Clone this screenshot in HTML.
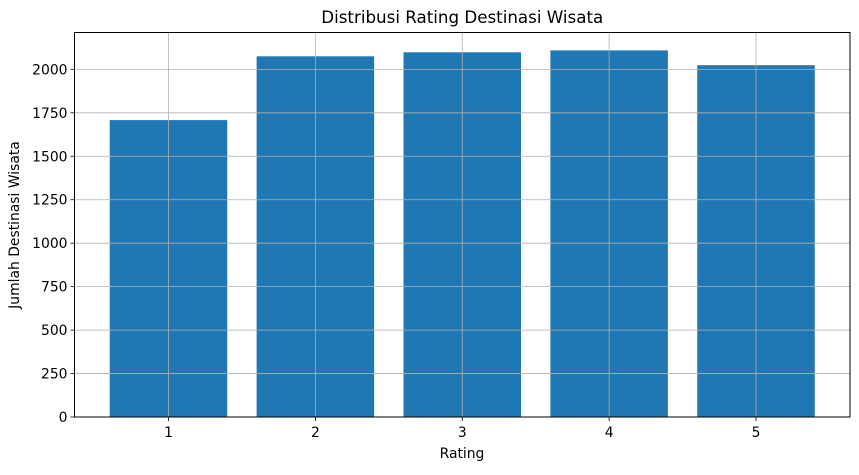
<!DOCTYPE html>
<html><head><meta charset="utf-8"><style>
body{margin:0;background:#fff;}
svg text{font-family:"DejaVu Sans","Liberation Sans",sans-serif;fill:#000;}
</style></head><body>
<svg width="859" height="470" xmlns="http://www.w3.org/2000/svg">
<rect width="859" height="470" fill="#fff"/>
<g id="grid"></g>
<g id="bars"></g>
<g id="grid2"></g>
<g id="axes"></g>
</svg>
<script>
const categories=["1","2","3","4","5"];
const values=[1708,2075,2098,2109,2024];
const yTicks=[0,250,500,750,1000,1250,1500,1750,2000];
const L=74.5,R=850,T=32.5,B=417;
const xMin=0.36,xMax=5.64,yMax=2212;
const xs=i=>L+(i+1-xMin)/(xMax-xMin)*(R-L);
const ys=v=>B-v/yMax*(B-T);
const NS="http://www.w3.org/2000/svg";
function mk(t,a,p){const e=document.createElementNS(NS,t);for(const k in a)e.setAttribute(k,a[k]);p.appendChild(e);return e;}
const grid=document.getElementById('grid'),bars=document.getElementById('bars'),g2=document.getElementById('grid2'),ax=document.getElementById('axes');
const bw=0.8/(xMax-xMin)*(R-L);
categories.forEach((c,i)=>{
 const b=mk('rect',{x:xs(i)-bw/2,y:ys(values[i]),width:bw,height:B-ys(values[i]),fill:'#1f77b4'},bars);
 
 
 const gl=mk('line',{x1:xs(i),x2:xs(i),y1:T,y2:B,stroke:'#b0b0b0','stroke-width':0.8},g2);
 
 
 mk('line',{x1:xs(i),x2:xs(i),y1:B,y2:B+4,stroke:'#000','stroke-width':0.8},ax);
 const t=mk('text',{x:xs(i),y:B+20,'font-size':13.9,'text-anchor':'middle'},ax);t.textContent=c;
 
 
});
yTicks.forEach(v=>{
 const gl=mk('line',{x1:L,x2:R,y1:ys(v),y2:ys(v),stroke:'#b0b0b0','stroke-width':0.8},g2);
 
 
 mk('line',{x1:L-4,x2:L,y1:ys(v),y2:ys(v),stroke:'#000','stroke-width':0.8},ax);
 const t=mk('text',{x:L-7,y:ys(v)+5,'font-size':13.9,'text-anchor':'end'},ax);t.textContent=v;
 
 
});
const fr=mk('rect',{x:L,y:T,width:R-L,height:B-T,fill:'none',stroke:'#000','stroke-width':1},ax);


const ti=mk('text',{x:(L+R)/2,y:23,'font-size':16.7,'text-anchor':'middle'},ax);ti.textContent='Distribusi Rating Destinasi Wisata';


const xl=mk('text',{x:462,y:458,'font-size':13.9,'text-anchor':'middle'},ax);xl.textContent='Rating';


const yl=mk('text',{x:0,y:0,'font-size':13.9,'text-anchor':'middle',transform:'translate(19,225) rotate(-90)'},ax);yl.textContent='Jumlah Destinasi Wisata';


</script>
</body></html>
